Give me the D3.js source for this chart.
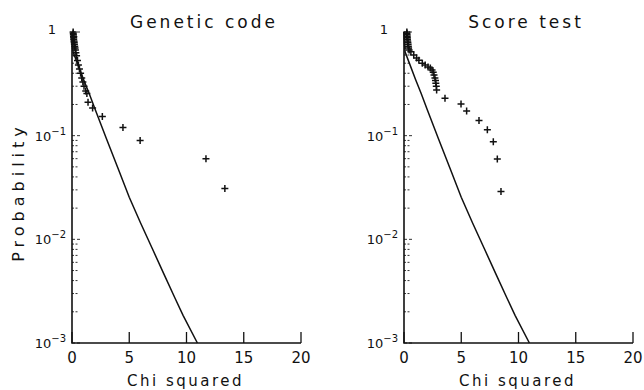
<!DOCTYPE html>
<html>
<head>
<meta charset="utf-8">
<script src="https://cdn.jsdelivr.net/npm/d3@7"></script>
<style>
  body { margin: 0; background: #fff; }
  svg text { font-family: "DejaVu Sans", sans-serif; fill: #111; }
</style>
</head>
<body>
<div id="chart"></div>
<script>
// chi-squared (1 df) reference curve
const curveX = [0, 0.03, 0.1, 0.5, 1, 1.5, 2, 3, 4, 5, 6, 7, 8, 9, 9.7, 10.95];
const curveP = [1, 0.8, 0.64, 0.49, 0.35, 0.255, 0.182, 0.094, 0.049, 0.0255, 0.0143, 0.0082, 0.0047, 0.0027, 0.00185, 0.001];

// Genetic code panel points
const geneX = [0.1, 0.11, 0.12, 0.13, 0.14, 0.15, 0.17, 0.19, 0.21, 0.24, 0.27, 0.3, 0.34, 0.4, 0.48, 0.56, 0.65, 0.75, 0.85, 0.95, 1.05, 1.2, 1.3, 1.4, 1.8, 2.65, 4.45, 5.95, 11.7, 13.35];
const geneP = [1, 0.97, 0.94, 0.91, 0.88, 0.85, 0.82, 0.79, 0.76, 0.73, 0.7, 0.67, 0.63, 0.59, 0.53, 0.48, 0.44, 0.4, 0.36, 0.33, 0.3, 0.27, 0.255, 0.21, 0.185, 0.153, 0.12, 0.09, 0.06, 0.031];

// Score test panel points
const scoreX = [0.25, 0.26, 0.27, 0.28, 0.29, 0.3, 0.32, 0.34, 0.36, 0.38, 0.4, 0.45, 0.6, 0.85, 1.1, 1.3, 1.6, 1.85, 2.1, 2.3, 2.45, 2.55, 2.62, 2.7, 2.75, 2.78, 2.82, 2.85, 3.58, 4.98, 5.47, 6.55, 7.28, 7.8, 8.15, 8.47];
const scoreP = [1, 0.97, 0.94, 0.91, 0.88, 0.85, 0.82, 0.79, 0.76, 0.73, 0.7, 0.67, 0.645, 0.6, 0.56, 0.535, 0.5, 0.48, 0.46, 0.45, 0.43, 0.41, 0.385, 0.36, 0.34, 0.32, 0.3, 0.275, 0.229, 0.202, 0.173, 0.14, 0.114, 0.0875, 0.0596, 0.0289];

const xTicks = [0, 5, 10, 15, 20];
const yDecades = [0, -1, -2, -3];

const svg = d3.select("#chart").append("svg")
    .attr("width", 644)
    .attr("height", 390);

function panel(left, title, titleX, xs, ps, showYTitle) {
  const top = 32, width = 229, height = 311;
  const x = d3.scaleLinear().domain([0, 20]).range([left, left + width]);
  const y = d3.scaleLog().domain([0.001, 1]).range([top + height, top]);
  const g = svg.append("g");

  // minor ticks on the inner side of the y axis
  const minors = [];
  yDecades.slice(1).forEach(k => {
    for (let m = 2; m <= 9; m++) minors.push(m * Math.pow(10, k));
  });
  g.selectAll(".minor").data(minors).enter().append("line")
      .attr("x1", left).attr("x2", left + 6)
      .attr("y1", d => y(d)).attr("y2", d => y(d))
      .attr("stroke", "#333").attr("stroke-width", 1)
      .attr("stroke-dasharray", "2,1.5");

  // major y ticks
  g.selectAll(".major").data(yDecades).enter().append("line")
      .attr("x1", left).attr("x2", left + 9)
      .attr("y1", d => y(Math.pow(10, d))).attr("y2", d => y(Math.pow(10, d)))
      .attr("stroke", "#333").attr("stroke-width", 1)
      .attr("stroke-dasharray", "3,2");

  // y tick labels
  yDecades.forEach(k => {
    const t = g.append("text")
        .attr("x", left - 6)
        .attr("y", y(Math.pow(10, k)) + 5)
        .attr("text-anchor", "end")
        .style("font-size", "13px");
    if (k === 0) {
      t.attr("x", left - 16).attr("y", y(1) + 2).text("1");
    } else {
      t.append("tspan").text("10");
      t.append("tspan").attr("dy", -6).style("font-size", "10px").text("\u2212" + (-k));
    }
  });

  // x ticks pointing inward
  g.selectAll(".xt").data(xTicks).enter().append("line")
      .attr("x1", d => x(d)).attr("x2", d => x(d))
      .attr("y1", top + height).attr("y2", top + height - 11)
      .attr("stroke", "#111").attr("stroke-width", 1.3);

  g.selectAll(".xl").data(xTicks).enter().append("text")
      .attr("x", d => x(d))
      .attr("y", top + height + 20)
      .attr("text-anchor", "middle")
      .style("font-size", "15px")
      .text(d => d);

  // axes lines
  g.append("path")
      .attr("d", `M${left},${top}V${top + height}H${left + width}`)
      .attr("fill", "none").attr("stroke", "#111").attr("stroke-width", 1.6);

  // reference curve
  const line = d3.line().x(d => x(d[0])).y(d => y(d[1]));
  g.append("path")
      .datum(d3.zip(curveX, curveP))
      .attr("d", line)
      .attr("fill", "none").attr("stroke", "#111").attr("stroke-width", 1.5);

  // plus markers
  const pts = d3.zip(xs, ps);
  g.selectAll(".pt").data(pts).enter().append("path")
      .attr("d", d => {
        const cx = x(d[0]), cy = y(d[1]);
        return `M${cx - 3.5},${cy}H${cx + 3.5}M${cx},${cy - 3.5}V${cy + 3.5}`;
      })
      .attr("stroke", "#111").attr("stroke-width", 1.5);

  // title and x label
  g.append("text")
      .attr("x", titleX)
      .attr("y", 28)
      .attr("text-anchor", "middle")
      .style("font-size", "17px")
      .style("letter-spacing", "3px")
      .text(title);

  g.append("text")
      .attr("x", left + width / 2 - 1)
      .attr("y", 386)
      .attr("text-anchor", "middle")
      .style("font-size", "15px")
      .style("letter-spacing", "2.5px")
      .text("Chi squared");

  if (showYTitle) {
    g.append("text")
        .attr("transform", `translate(24,${top + 160}) rotate(-90)`)
        .attr("text-anchor", "middle")
        .style("font-size", "16px")
        .style("letter-spacing", "5px")
        .text("Probability");
  }
}

panel(72, "Genetic code", 204, geneX, geneP, true);
panel(404, "Score test", 526, scoreX, scoreP, false);
</script>
</body>
</html>
